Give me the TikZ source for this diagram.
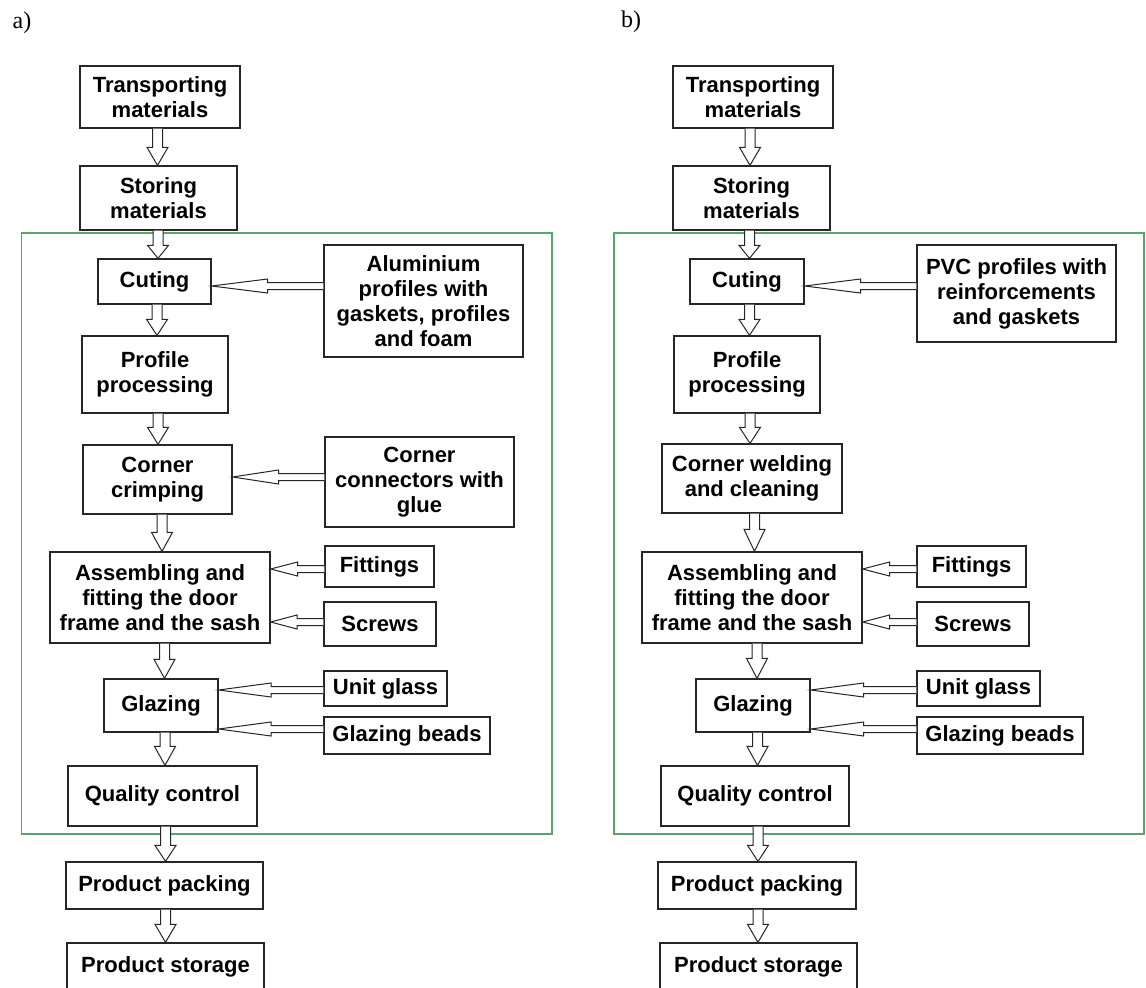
\documentclass[tikz,border=0pt]{standalone}
\usepackage{fontspec}
\newfontfamily\arialf{Liberation Sans}
\newfontfamily\timesf{Liberation Serif}
\usetikzlibrary{calc}
\definecolor{framegreen}{RGB}{88,165,110}
\tikzset{
  box/.style={draw=black!85, line width=1.3pt, fill=white, inner sep=0pt, align=center,
    font=\arialf\bfseries\fontsize{22}{25}\selectfont},
  blockarrow/.style={draw=black!85, fill=white, line width=1pt, line join=miter},
  greenframe/.style={draw=framegreen, line width=1.4pt},
  panellabel/.style={inner sep=0pt, font=\timesf\fontsize{24}{28}\selectfont}
}
\newcommand\bx[6]{\node[box, minimum width=#4pt, minimum height=#5pt] (#1) at (#2,#3) {#6};}
\newcommand\varr[4]{%
  \path (#3,0 |- #1.south) coordinate (vs) (#3,0 |- #2.north) coordinate (vt);
  \draw[blockarrow] ($(vs)+(-5,0)$) -- ($(vt)+(-5,-#4)$) -- ($(vt)+(-10.5,-#4)$) -- (vt)
    -- ($(vt)+(10.5,-#4)$) -- ($(vt)+(5,-#4)$) -- ($(vs)+(5,0)$);
}
\newcommand\harr[3]{%
  \path (#1.west |- 0,#3) coordinate (hs) (#2.east |- 0,#3) coordinate (ht);
  \path ($(hs)!0.5!(ht)$) coordinate (hm);
  \draw[blockarrow] ($(hs)+(0,-3.5)$) -- ($(hm)+(0,-3.5)$) -- ($(hm)+(0,-7)$) -- (ht)
    -- ($(hm)+(0,7)$) -- ($(hm)+(0,3.5)$) -- ($(hs)+(0,3.5)$);
}
\begin{document}
\begin{tikzpicture}[x=1pt,y=-1pt]
\useasboundingbox (0,0) rectangle (1146,988);
\clip (0,0) rectangle (1146,988);
\fill[white] (0,0) rectangle (1146,988);

% ---------- panel a ----------
\node[panellabel] (la) at (22,23) {a)};
\draw[greenframe] (21.5,233) rectangle (552,834);
\bx{tA}{160}{97}{160}{62}{Transporting\\materials}
\bx{sA}{158.5}{198}{157}{64}{Storing\\materials}
\bx{cutA}{154.5}{281.5}{113}{45}{Cuting}
\bx{alA}{423.5}{301}{199}{112}{Aluminium\\profiles with\\gaskets, profiles\\and foam}
\bx{ppA}{155}{374.5}{146}{77}{Profile\\processing}
\bx{ccA}{157.5}{479.5}{149}{69}{Corner\\crimping}
\bx{cnA}{419.5}{482}{189}{90}{Corner\\connectors with\\glue}
\bx{asA}{160}{597.5}{220}{91}{Assembling and\\fitting the door\\frame and the sash}
\bx{fiA}{379.5}{566.5}{109}{41}{Fittings}
\bx{scA}{380}{624}{112}{44}{Screws}
\bx{glA}{161}{705.5}{114}{53}{Glazing}
\bx{ugA}{385.5}{688.5}{123}{35}{Unit glass}
\bx{gbA}{407}{735.5}{166}{37}{Glazing beads}
\bx{qcA}{162.5}{796}{189}{60}{Quality control}
\bx{pkA}{164.5}{885.5}{197}{47}{Product packing}
\bx{stA}{165.5}{966.5}{197}{47}{Product storage}

\varr{tA}{sA}{157.5}{18}
\varr{sA}{cutA}{158}{13}
\varr{cutA}{ppA}{157}{16}
\varr{ppA}{ccA}{158}{17}
\varr{ccA}{asA}{162}{19}
\varr{asA}{glA}{164.5}{19}
\varr{glA}{qcA}{165}{19}
\varr{qcA}{pkA}{165.5}{16}
\varr{pkA}{stA}{165.5}{18}

\harr{alA}{cutA}{286}
\harr{cnA}{ccA}{477}
\harr{fiA}{asA}{569}
\harr{scA}{asA}{622}
\harr{ugA}{glA}{690}
\harr{gbA}{glA}{729}

% ---------- panel b ----------
\node[panellabel] (lb) at (631,22) {b)};
\draw[greenframe] (614,233) rectangle (1144,834);
\bx{tB}{753}{97}{160}{62}{Transporting\\materials}
\bx{sB}{751.5}{198}{157}{64}{Storing\\materials}
\bx{cutB}{747}{281.5}{114}{45}{Cuting}
\bx{pvB}{1016.5}{293.5}{199}{97}{PVC profiles with\\reinforcements\\and gaskets}
\bx{ppB}{747}{374.5}{146}{77}{Profile\\processing}
\bx{cwB}{752}{478.5}{180}{69}{Corner welding\\and cleaning}
\bx{asB}{752}{597.5}{220}{91}{Assembling and\\fitting the door\\frame and the sash}
\bx{fiB}{971.5}{566.5}{109}{41}{Fittings}
\bx{scB}{973}{624}{112}{44}{Screws}
\bx{glB}{753}{705.5}{114}{53}{Glazing}
\bx{ugB}{978.5}{688.5}{123}{35}{Unit glass}
\bx{gbB}{1000}{735.5}{166}{37}{Glazing beads}
\bx{qcB}{755}{796}{188}{60}{Quality control}
\bx{pkB}{757}{885.5}{198}{47}{Product packing}
\bx{stB}{758.5}{966.5}{197}{47}{Product storage}

\varr{tB}{sB}{750}{18}
\varr{sB}{cutB}{749.5}{13}
\varr{cutB}{ppB}{749.5}{16}
\varr{ppB}{cwB}{750}{16}
\varr{cwB}{asB}{754.5}{22}
\varr{asB}{glB}{757}{20}
\varr{glB}{qcB}{757.5}{19}
\varr{qcB}{pkB}{758}{16}
\varr{pkB}{stB}{758}{18}

\harr{pvB}{cutB}{286}
\harr{fiB}{asB}{569}
\harr{scB}{asB}{622}
\harr{ugB}{glB}{690}
\harr{gbB}{glB}{729}
\end{tikzpicture}
\end{document}
